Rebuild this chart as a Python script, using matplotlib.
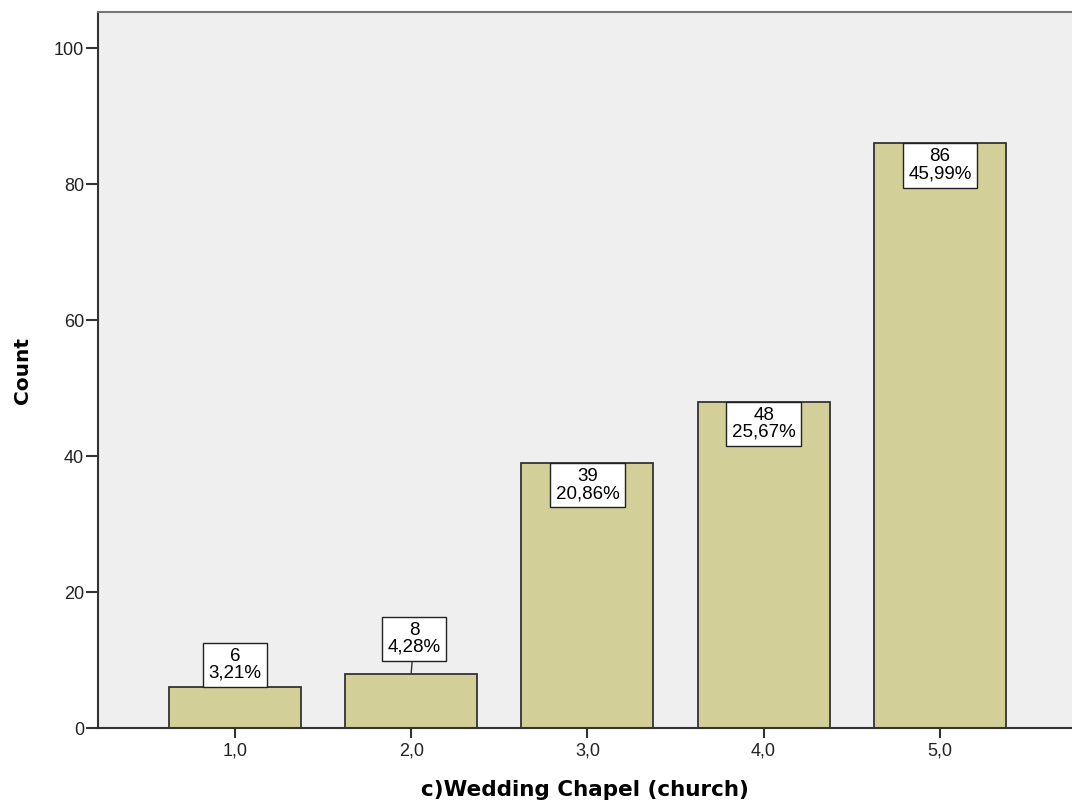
import matplotlib.pyplot as plt

# data
categories = [1.0, 2.0, 3.0, 4.0, 5.0]
tick_labels = ['1,0', '2,0', '3,0', '4,0', '5,0']
counts = [6, 8, 39, 48, 86]
percents = ['3,21%', '4,28%', '20,86%', '25,67%', '45,99%']

plt.rcParams['font.family'] = ['Liberation Sans', 'DejaVu Sans']

fig = plt.figure(figsize=(10.72, 8.05), dpi=100)
ax = fig.add_axes([98 / 1072, 77 / 805, 1 - 98 / 1072, (728 - 12) / 805])
ax.set_facecolor('#efefef')

ax.bar(categories, counts, width=0.75, color='#d3cf98', edgecolor='#333333',
       linewidth=1.3, zorder=2)

pad = 0.28
fs = 13.5
box = dict(boxstyle='square,pad=%s' % pad, fc='white', ec='#222222', lw=1.0)
pad_pt = pad * fs

for x, c, p in zip(categories, counts, percents):
    label = '%d\n%s' % (c, p)
    if c == 6:
        ax.annotate(label, (x, c), xytext=(0, pad_pt), textcoords='offset points',
                    ha='center', va='bottom', fontsize=fs, linespacing=1.0,
                    bbox=box, zorder=3)
    elif c == 8:
        ax.annotate(label, (x, c), xytext=(2, 9 + pad_pt), textcoords='offset points',
                    ha='center', va='bottom', fontsize=fs, linespacing=1.0,
                    bbox=box, zorder=3,
                    arrowprops=dict(arrowstyle='-', color='#333333', lw=1.0,
                                    shrinkA=0, shrinkB=0))
    else:
        ax.annotate(label, (x, c), xytext=(0, -pad_pt), textcoords='offset points',
                    ha='center', va='top', fontsize=fs, linespacing=1.0,
                    bbox=box, zorder=3)

ax.set_xlim(0.223, 5.75)
ax.set_ylim(0, 105.3)
ax.set_xticks(categories)
ax.set_xticklabels(tick_labels)
ax.set_yticks([0, 20, 40, 60, 80, 100])

ax.tick_params(axis='both', direction='out', width=1.5, color='#333333',
               labelsize=13, labelcolor='#222222')
ax.tick_params(axis='y', length=9, pad=1)
ax.tick_params(axis='x', length=7.5, pad=3)

for side in ['left', 'bottom']:
    ax.spines[side].set_color('#333333')
    ax.spines[side].set_linewidth(1.5)
ax.spines['top'].set_color('#777777')
ax.spines['top'].set_linewidth(1.5)
ax.spines['right'].set_visible(False)

ax.set_ylabel('Count', fontsize=14.5, fontweight='bold', family='DejaVu Sans',
              labelpad=16)
ax.set_xlabel('c)Wedding Chapel (church)', fontsize=15.5, fontweight='bold',
              family='DejaVu Sans', labelpad=15)

fig.savefig('out.png', dpi=100)
